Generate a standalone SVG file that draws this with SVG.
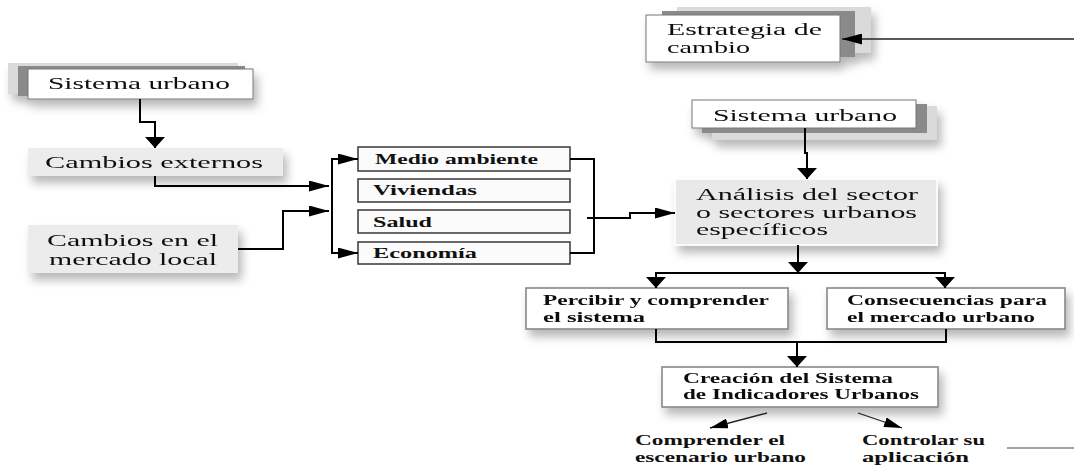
<svg xmlns="http://www.w3.org/2000/svg" width="1074" height="465" viewBox="0 0 1074 465">
<style>
.big{font-family:"Liberation Serif","Times New Roman",serif;font-size:17px;fill:#111}
.bold{font-family:"Liberation Serif","Times New Roman",serif;font-size:14px;font-weight:bold;fill:#111}
.wbox{fill:#fff;stroke:#777;stroke-width:1}
.gbox{fill:#ececec;stroke:none}
.sbox{fill:#fbfbfb;stroke:#444;stroke-width:1.6}
.pbox{fill:#fff;stroke:#888;stroke-width:1.6}
.dk{fill:#8a8a8a}
.lt{fill:#dadada}
.con{fill:none;stroke:#000;stroke-width:2}
.thin{fill:none;stroke:#222;stroke-width:1.3}
</style>
<defs>
<filter id="sh" x="-20%" y="-30%" width="150%" height="190%">
<feGaussianBlur in="SourceAlpha" stdDeviation="5"/>
<feOffset dx="4" dy="7" result="b"/>
<feFlood flood-color="#000" flood-opacity="0.28"/>
<feComposite in2="b" operator="in"/>
<feMerge><feMergeNode/><feMergeNode in="SourceGraphic"/></feMerge>
</filter>
<marker id="h" viewBox="0 0 20 11" refX="20" refY="5.5" markerWidth="20" markerHeight="11" markerUnits="userSpaceOnUse" orient="auto"><path d="M0,0 L20,5.5 L0,11 z" fill="#000"/></marker>
<marker id="v" viewBox="0 0 11 20" refX="11" refY="10" markerWidth="11" markerHeight="20" markerUnits="userSpaceOnUse" orient="auto"><path d="M0,0 L11,10 L0,20 z" fill="#000"/></marker>
<marker id="d" viewBox="0 0 18 10" refX="18" refY="5" markerWidth="18" markerHeight="10" markerUnits="userSpaceOnUse" orient="auto"><path d="M0,0 L18,5 L0,10 z" fill="#000"/></marker>
</defs>
<rect width="1074" height="465" fill="#fff"/>

<g id="sistema-urbano-1" filter="url(#sh)">
<rect class="lt" x="8" y="63" width="230" height="31"/>
<rect class="dk" x="18" y="66" width="227" height="30"/>
<rect class="wbox" x="28" y="69" width="225" height="30"/>
<text class="big" x="48" y="89" textLength="182" lengthAdjust="spacingAndGlyphs">Sistema urbano</text>
</g>

<g id="cambios-externos" filter="url(#sh)">
<rect class="gbox" x="28" y="148" width="255" height="28"/>
<text class="big" x="45" y="168" textLength="218" lengthAdjust="spacingAndGlyphs">Cambios externos</text>
</g>

<g id="cambios-mercado" filter="url(#sh)">
<rect class="gbox" x="28" y="225" width="210" height="48"/>
<text class="big" x="47" y="246" textLength="171" lengthAdjust="spacingAndGlyphs">Cambios en el</text>
<text class="big" x="49" y="265" textLength="168" lengthAdjust="spacingAndGlyphs">mercado local</text>
</g>

<g id="medio-ambiente"><rect class="sbox" x="358" y="147" width="212" height="24"/>
<text class="bold" x="375" y="164" textLength="163" lengthAdjust="spacingAndGlyphs">Medio ambiente</text></g>
<g id="viviendas"><rect class="sbox" x="358" y="179" width="212" height="23"/>
<text class="bold" x="373" y="195" textLength="104" lengthAdjust="spacingAndGlyphs">Viviendas</text></g>
<g id="salud"><rect class="sbox" x="358" y="210" width="212" height="23"/>
<text class="bold" x="373" y="227" textLength="59" lengthAdjust="spacingAndGlyphs">Salud</text></g>
<g id="economia"><rect class="sbox" x="358" y="242" width="212" height="22"/>
<text class="bold" x="373" y="258" textLength="104" lengthAdjust="spacingAndGlyphs">Economía</text></g>

<g id="estrategia" filter="url(#sh)">
<rect class="lt" x="677" y="7" width="194" height="46"/>
<rect class="dk" x="662" y="11" width="193" height="46"/>
<rect class="wbox" x="646" y="15" width="194" height="47"/>
<text class="big" x="667" y="35" textLength="155" lengthAdjust="spacingAndGlyphs">Estrategia de</text>
<text class="big" x="667" y="53" textLength="83" lengthAdjust="spacingAndGlyphs">cambio</text>
</g>

<g id="sistema-urbano-2" filter="url(#sh)">
<rect class="lt" x="712" y="106" width="225" height="34"/>
<rect class="dk" x="702" y="104" width="225" height="29"/>
<rect class="wbox" x="692" y="100" width="224" height="28"/>
<text class="big" x="713" y="121" textLength="184" lengthAdjust="spacingAndGlyphs">Sistema urbano</text>
</g>

<g id="analisis" filter="url(#sh)">
<rect x="675" y="179" width="262" height="66" fill="#e9e9e9" stroke="#fff" stroke-width="1.5"/>
<text class="big" x="696" y="200" textLength="222" lengthAdjust="spacingAndGlyphs">Análisis del sector</text>
<text class="big" x="696" y="218" textLength="221" lengthAdjust="spacingAndGlyphs">o sectores urbanos</text>
<text class="big" x="696" y="235" textLength="132" lengthAdjust="spacingAndGlyphs">específicos</text>
</g>

<g id="percibir" filter="url(#sh)">
<rect class="pbox" x="526" y="288" width="262" height="41"/>
<text class="bold" x="543" y="305" textLength="226" lengthAdjust="spacingAndGlyphs">Percibir y comprender</text>
<text class="bold" x="543" y="322" textLength="102" lengthAdjust="spacingAndGlyphs">el sistema</text>
</g>

<g id="consecuencias" filter="url(#sh)">
<rect class="pbox" x="827" y="288" width="238" height="41"/>
<text class="bold" x="847" y="305" textLength="200" lengthAdjust="spacingAndGlyphs">Consecuencias para</text>
<text class="bold" x="847" y="322" textLength="188" lengthAdjust="spacingAndGlyphs">el mercado urbano</text>
</g>

<g id="creacion" filter="url(#sh)">
<rect class="pbox" x="662" y="367" width="276" height="40"/>
<text class="bold" x="683" y="383" textLength="210" lengthAdjust="spacingAndGlyphs">Creación del Sistema</text>
<text class="bold" x="683" y="399" textLength="236" lengthAdjust="spacingAndGlyphs">de Indicadores Urbanos</text>
</g>

<g id="comprender">
<text class="bold" x="635" y="445" textLength="150" lengthAdjust="spacingAndGlyphs">Comprender el</text>
<text class="bold" x="635" y="462" textLength="171" lengthAdjust="spacingAndGlyphs">escenario urbano</text>
</g>
<g id="controlar">
<text class="bold" x="862" y="445" textLength="123" lengthAdjust="spacingAndGlyphs">Controlar su</text>
<text class="bold" x="862" y="462" textLength="107" lengthAdjust="spacingAndGlyphs">aplicación</text>
</g>

<g id="connectors">
<path class="con" d="M140,99 V122 H155 V148" marker-end="url(#v)"/>
<path class="con" d="M155,176 V186 H329" marker-end="url(#h)"/>
<path class="con" d="M238,249 H283 V211 H329" marker-end="url(#h)"/>
<path class="con" d="M332,254 V159 H358" marker-end="url(#h)"/>
<path class="con" d="M332,253 H358" marker-end="url(#h)"/>
<path class="con" d="M570,159 H594 V253 H570"/>
<path class="con" d="M587,218 H630 V213 H675" marker-end="url(#h)"/>
<path class="thin" d="M1074,39 H842" marker-end="url(#h)"/>
<path class="con" d="M805,128 V153 H807 V179" marker-end="url(#v)"/>
<path class="con" d="M798,245 V273" marker-end="url(#v)"/>
<path class="con" d="M656,288 V273 H945 V288"/>
<path class="con" d="M656,275 V288" marker-end="url(#v)"/>
<path class="con" d="M945,275 V288" marker-end="url(#v)"/>
<path class="con" d="M656,329 V342 H946 V329"/>
<path class="con" d="M797,342 V367" marker-end="url(#v)"/>
<path class="thin" d="M767,413 L710,428" marker-end="url(#d)"/>
<path class="thin" d="M858,413 L902,428" marker-end="url(#d)"/>
<path d="M1007,448 H1074" stroke="#444" stroke-width="1" fill="none"/>
</g>
</svg>
